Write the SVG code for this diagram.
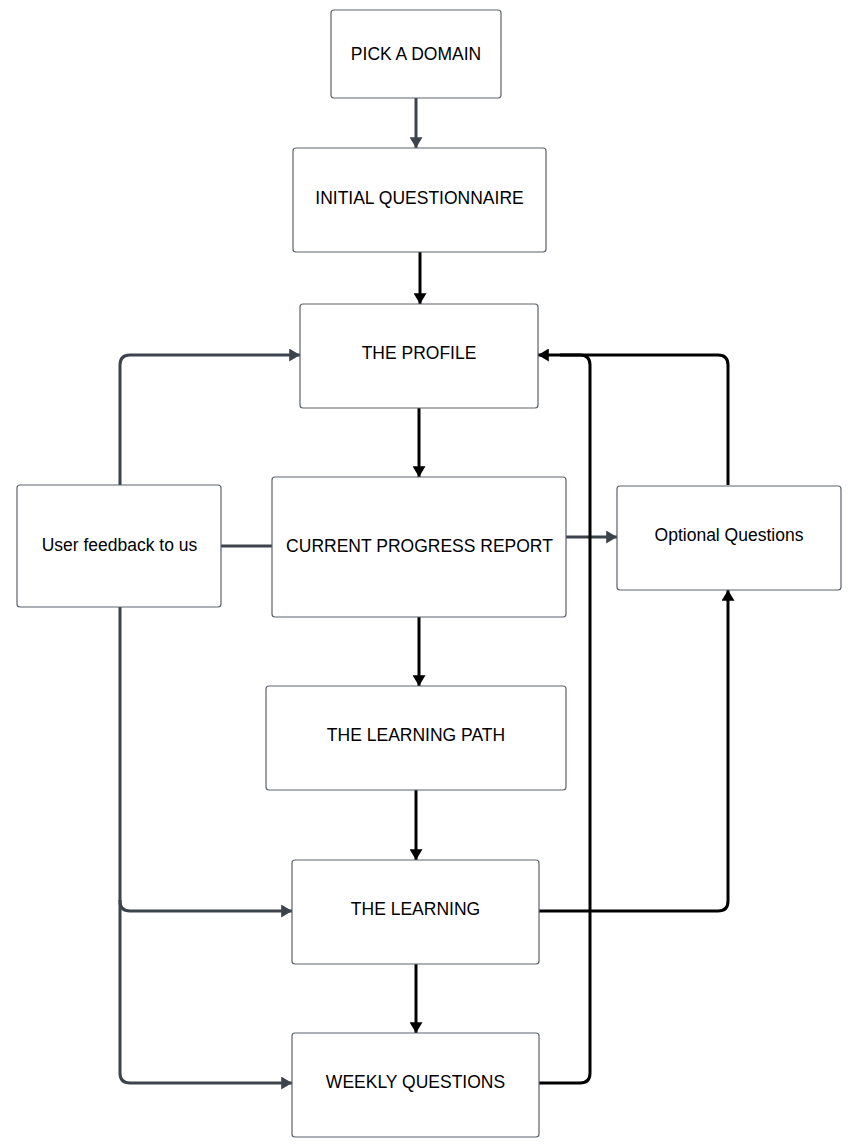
<svg xmlns="http://www.w3.org/2000/svg" width="859" height="1148" viewBox="0 0 859 1148">
<style>
.box{fill:#fff;stroke:#5c636d;stroke-width:1.2}
.t{font-family:"Liberation Sans",Arial,sans-serif;font-size:17.5px;fill:#000;text-anchor:middle}
.g{fill:none;stroke:#3d434d;stroke-width:3}
.k{fill:none;stroke:#000;stroke-width:3}
</style>
<defs>
<marker id="ag" viewBox="0 0 10 12" refX="10" refY="6" markerWidth="11" markerHeight="13" markerUnits="userSpaceOnUse" orient="auto"><path d="M0,0 L10,6 L0,12 Z" fill="#3d434d"/></marker>
<marker id="ak" viewBox="0 0 10 12" refX="10" refY="6" markerWidth="11" markerHeight="13" markerUnits="userSpaceOnUse" orient="auto"><path d="M0,0 L10,6 L0,12 Z" fill="#000"/></marker>
</defs>
<rect width="859" height="1148" fill="#fff"/>
<g id="connectors">
<path class="g" d="M416,98 V148" marker-end="url(#ag)"/>
<path class="k" d="M420,252 V304" marker-end="url(#ak)"/>
<path class="k" d="M419,408 V477" marker-end="url(#ak)"/>
<path class="k" d="M419,617 V686" marker-end="url(#ak)"/>
<path class="k" d="M416,790 V860" marker-end="url(#ak)"/>
<path class="k" d="M416,964 V1033" marker-end="url(#ak)"/>
<path class="g" d="M120,485 V365 Q120,355 130,355 H300" marker-end="url(#ag)"/>
<path class="g" d="M221,546 H272"/>
<path class="g" d="M566,537 H617" marker-end="url(#ag)"/>
<path class="g" d="M120,607 V901 Q120,911 130,911 H292" marker-end="url(#ag)"/>
<path class="g" d="M120,900 V1073 Q120,1083 130,1083 H292" marker-end="url(#ag)"/>
<path class="k" d="M539,911 H718 Q728,911 728,901 V590" marker-end="url(#ak)"/>
<path class="k" d="M728,485 V365 Q728,355 718,355 H538" marker-end="url(#ak)"/>
<path class="k" d="M539,1083 H580 Q590,1083 590,1073 V365 Q590,355 580,355 H560"/>
</g>
<g id="pick"><rect class="box" x="331" y="10" width="170" height="88" rx="3"/><text class="t" x="416" y="59.5">PICK A DOMAIN</text></g>
<g id="initial"><rect class="box" x="293" y="148" width="253" height="104" rx="3"/><text class="t" x="419.5" y="203.5">INITIAL QUESTIONNAIRE</text></g>
<g id="profile"><rect class="box" x="300" y="304" width="238" height="104" rx="3"/><text class="t" x="419" y="358.5">THE PROFILE</text></g>
<g id="feedback"><rect class="box" x="17" y="485" width="204" height="122" rx="3"/><text class="t" x="119.5" y="551">User feedback to us</text></g>
<g id="progress"><rect class="box" x="272" y="477" width="294" height="140" rx="3"/><text class="t" x="419.5" y="551.5">CURRENT PROGRESS REPORT</text></g>
<g id="optional"><rect class="box" x="617" y="486" width="224" height="104" rx="3"/><text class="t" x="729" y="540.5">Optional Questions</text></g>
<g id="path"><rect class="box" x="266" y="686" width="300" height="104" rx="3"/><text class="t" x="416" y="740.5">THE LEARNING PATH</text></g>
<g id="learning"><rect class="box" x="292" y="860" width="247" height="104" rx="3"/><text class="t" x="415.5" y="915">THE LEARNING</text></g>
<g id="weekly"><rect class="box" x="292" y="1033" width="247" height="104" rx="3"/><text class="t" x="415.5" y="1088">WEEKLY QUESTIONS</text></g>
</svg>
